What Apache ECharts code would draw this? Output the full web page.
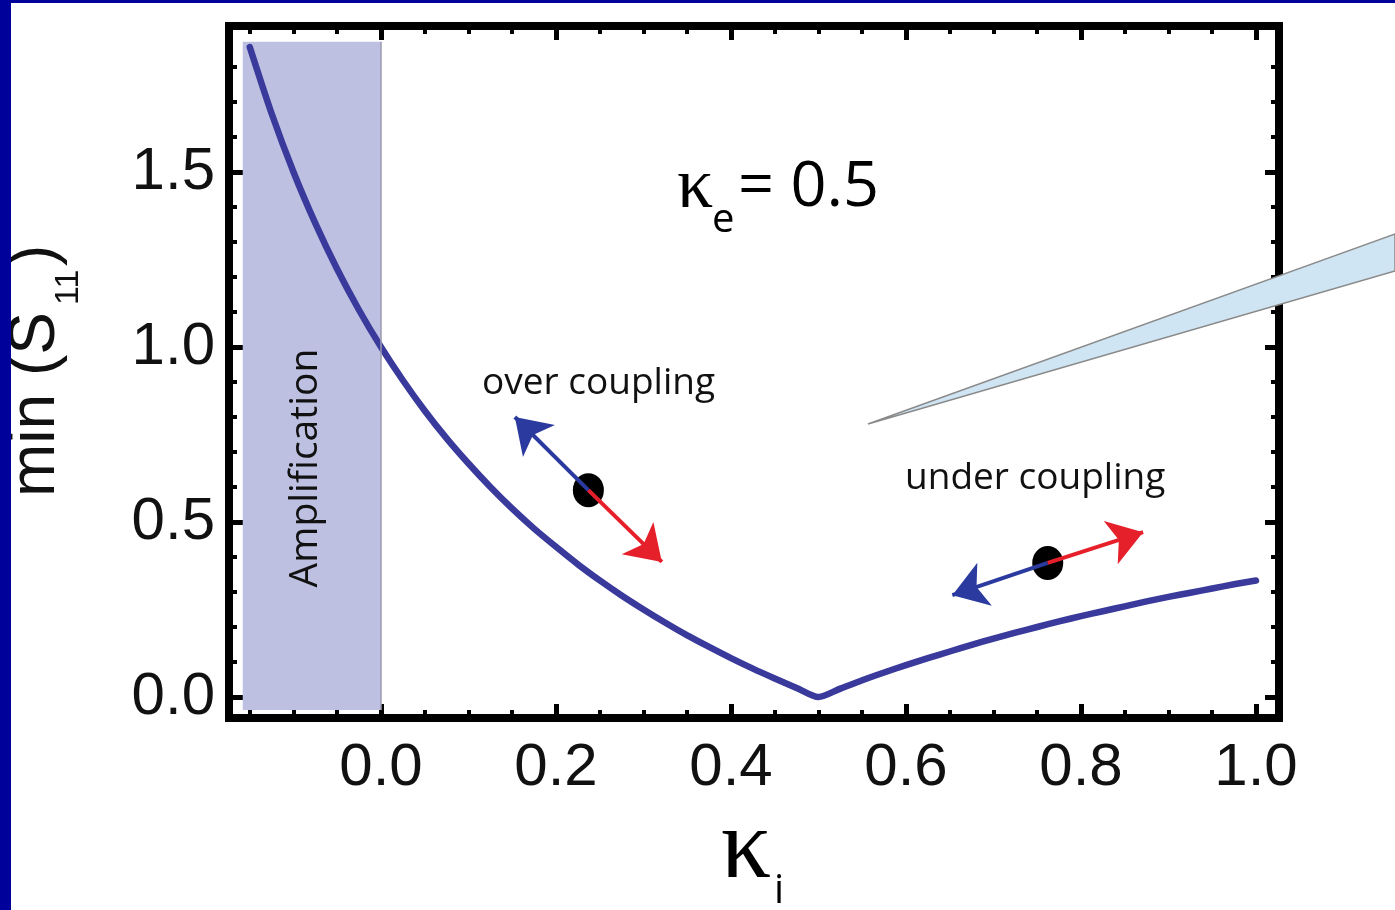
<!DOCTYPE html>
<html lang="en">
<head>
    <meta charset="UTF-8">
    <title>min(S11) vs kappa_i</title>
    <script src="https://cdn.jsdelivr.net/npm/echarts@6/dist/echarts.min.js"></script>
    <style>
        html, body {margin: 0; padding: 0; background: #fff;}
        #main {width: 1395px; height: 910px;}
    </style>
</head>
<body>
<div id="main"></div>
<script>
    // curve
    var kappaI = [-0.15, -0.125, -0.1, -0.075, -0.05, -0.025, 0.0, 0.025, 0.05, 0.075, 0.1, 0.125, 0.15, 0.175, 0.2,
        0.225, 0.25, 0.275, 0.3, 0.325, 0.35, 0.375, 0.4, 0.425, 0.45, 0.475, 0.5,
        0.525, 0.55, 0.575, 0.6, 0.625, 0.65, 0.675, 0.7, 0.725, 0.75, 0.775, 0.8,
        0.825, 0.85, 0.875, 0.9, 0.925, 0.95, 0.975, 1.0];
    var minS11 = [1.857, 1.667, 1.50, 1.353, 1.222, 1.105, 1.0, 0.905, 0.818, 0.739, 0.667, 0.60, 0.538, 0.481, 0.429,
        0.379, 0.333, 0.29, 0.25, 0.212, 0.176, 0.143, 0.111, 0.081, 0.053, 0.026, 0.0,
        0.024, 0.048, 0.07, 0.091, 0.111, 0.13, 0.149, 0.167, 0.184, 0.20, 0.216, 0.231,
        0.245, 0.259, 0.273, 0.286, 0.298, 0.31, 0.322, 0.333];

    // amplification band (kappa_i < 0)
    var ampBand = [[-0.158, -0.037], [0.0, 1.872]];

    // operating points and their arrows
    var pointX = [0.237, 0.762];
    var pointY = [0.591, 0.383];
    var blueTips = [[0.153, 0.80], [0.653, 0.291]];
    var redTips = [[0.321, 0.386], [0.871, 0.471]];

    // frame ticks
    var xMajor = [0.0, 0.2, 0.4, 0.6, 0.8, 1.0];
    var xMinor = [-0.15, -0.1, -0.05, 0.05, 0.1, 0.15, 0.25, 0.3, 0.35, 0.45, 0.5, 0.55, 0.65, 0.7, 0.75, 0.85, 0.9, 0.95];
    var yMajor = [0.0, 0.5, 1.0, 1.5];
    var yMinor = [0.1, 0.2, 0.3, 0.4, 0.6, 0.7, 0.8, 0.9, 1.1, 1.2, 1.3, 1.4, 1.6, 1.7, 1.8];

    var xRange = [-0.1737, 1.0263];
    var yRange = [-0.06, 1.917];

    var curve = kappaI.map(function (k, i) { return [k, minS11[i]]; });

    function frameAxis(pos, ticks, len, w, withLabels, range) {
        return {
            type: 'value',
            position: pos,
            min: range[0],
            max: range[1],
            axisLine: {show: false, onZero: false},
            splitLine: {show: false},
            axisTick: {show: true, inside: true, length: len, customValues: ticks,
                lineStyle: {color: '#000', width: w}},
            axisLabel: withLabels ? {
                show: true,
                customValues: ticks,
                formatter: function (v) { return v.toFixed(1); },
                fontSize: 60,
                fontFamily: '"Liberation Sans", Arial, sans-serif',
                color: '#111',
                margin: (pos === 'bottom') ? 20 : 14
            } : {show: false}
        };
    }

    var myChart = echarts.init(document.getElementById('main'));
    var option = {
        animation: false,
        backgroundColor: '#fff',
        grid: {left: 229, right: 116, top: 26, bottom: 192, show: true,
            borderColor: '#000', borderWidth: 8, backgroundColor: 'transparent'},
        xAxis: [
            frameAxis('bottom', xMajor, 14, 5, true, xRange),
            frameAxis('bottom', xMinor, 8, 4, false, xRange),
            frameAxis('top', xMajor, 14, 5, false, xRange),
            frameAxis('top', xMinor, 8, 4, false, xRange)
        ],
        yAxis: [
            frameAxis('left', yMajor, 14, 5, true, yRange),
            frameAxis('left', yMinor, 8, 4, false, yRange),
            frameAxis('right', yMajor, 14, 5, false, yRange),
            frameAxis('right', yMinor, 8, 4, false, yRange)
        ],
        series: [
            {
                type: 'line',
                data: curve,
                showSymbol: false,
                smooth: 0.25,
                z: 3,
                lineStyle: {color: '#393a9b', width: 6.5, join: 'round', cap: 'round'},
                markArea: {
                    silent: true,
                    itemStyle: {color: '#bdc0e0'},
                    data: [[{coord: ampBand[0]}, {coord: ampBand[1]}]]
                },
                markLine: {
                    silent: true,
                    symbol: 'none',
                    label: {show: false},
                    lineStyle: {color: '#9a9ab0', width: 1.5, type: 'solid'},
                    data: [[{coord: [ampBand[1][0], ampBand[0][1]]}, {coord: [ampBand[1][0], ampBand[1][1]]}]]
                }
            },
            {
                type: 'scatter',
                z: 4,
                symbol: 'circle',
                symbolSize: [31, 34],
                itemStyle: {color: '#000', opacity: 1},
                data: pointX.map(function (x, i) { return [x, pointY[i]]; })
            },
            {
                type: 'lines',
                coordinateSystem: 'cartesian2d',
                z: 5,
                symbol: ['none', 'arrow'],
                symbolSize: 34,
                lineStyle: {width: 4, opacity: 1, curveness: 0},
                data: [
                    {coords: [[pointX[0], pointY[0]], blueTips[0]], lineStyle: {color: '#2b3a9e'}},
                    {coords: [[pointX[0], pointY[0]], redTips[0]], lineStyle: {color: '#e5202b'}},
                    {coords: [[pointX[1], pointY[1]], blueTips[1]], lineStyle: {color: '#2b3a9e'}},
                    {coords: [[pointX[1], pointY[1]], redTips[1]], lineStyle: {color: '#e5202b'}}
                ]
            }
        ],
        graphic: [
            // call-out wedge
            {type: 'polygon', z: 50, shape: {points: [[868, 424], [1395, 234], [1395, 271]]},
                style: {fill: '#cfe5f3', stroke: '#8a8a8a', lineWidth: 1.5}},
            // slide border
            {type: 'rect', z: 100, shape: {x: 0, y: 0, width: 1395, height: 3}, style: {fill: '#00009b'}},
            {type: 'rect', z: 100, shape: {x: 0, y: 0, width: 11, height: 910}, style: {fill: '#00009b'}},
            // kappa_e = 0.5
            {type: 'text', z: 60, x: 677, y: 188, style: {text: 'κ', font: '72px "Liberation Serif", serif',
                fill: '#000', align: 'left', verticalAlign: 'middle'}},
            {type: 'text', z: 60, x: 712, y: 221, style: {text: 'e', font: '40px "Open Sans", sans-serif',
                fill: '#000', align: 'left', verticalAlign: 'middle'}},
            {type: 'text', z: 60, x: 738, y: 188, style: {text: '= 0.5', font: '63px "Open Sans", sans-serif',
                fill: '#000', align: 'left', verticalAlign: 'middle'}},
            // annotations
            {type: 'text', z: 60, x: 482, y: 383, style: {text: 'over coupling', font: '37px "Open Sans", sans-serif',
                fill: '#111', align: 'left', verticalAlign: 'middle'}},
            {type: 'text', z: 60, x: 905, y: 478, style: {text: 'under coupling', font: '37px "Open Sans", sans-serif',
                fill: '#111', align: 'left', verticalAlign: 'middle'}},
            {type: 'text', z: 60, x: 306, y: 468, rotation: Math.PI / 2, style: {text: 'Amplification',
                font: '39px "Open Sans", sans-serif', fill: '#111', align: 'center', verticalAlign: 'middle'}},
            // x axis title
            {type: 'text', z: 60, x: 746, y: 851, style: {text: 'κ', font: '100px "Liberation Serif", serif',
                fill: '#000', align: 'center', verticalAlign: 'middle'}},
            {type: 'text', z: 60, x: 774, y: 892, style: {text: 'i', font: '40px "Open Sans", sans-serif',
                fill: '#000', align: 'left', verticalAlign: 'middle'}},
            // y axis title
            {type: 'text', z: 60, x: 36, y: 497, rotation: Math.PI / 2, style: {text: 'min (S',
                font: '64px "Liberation Sans", Arial, sans-serif', fill: '#111', align: 'left', verticalAlign: 'middle'}},
            {type: 'text', z: 60, x: 69, y: 305, rotation: Math.PI / 2, style: {text: '11',
                font: '34px "Liberation Sans", Arial, sans-serif', fill: '#111', align: 'left', verticalAlign: 'middle'}},
            {type: 'text', z: 60, x: 36, y: 266, rotation: Math.PI / 2, style: {text: ')',
                font: '64px "Liberation Sans", Arial, sans-serif', fill: '#111', align: 'left', verticalAlign: 'middle'}}
        ]
    };
    myChart.setOption(option);
</script>
</body>
</html>
